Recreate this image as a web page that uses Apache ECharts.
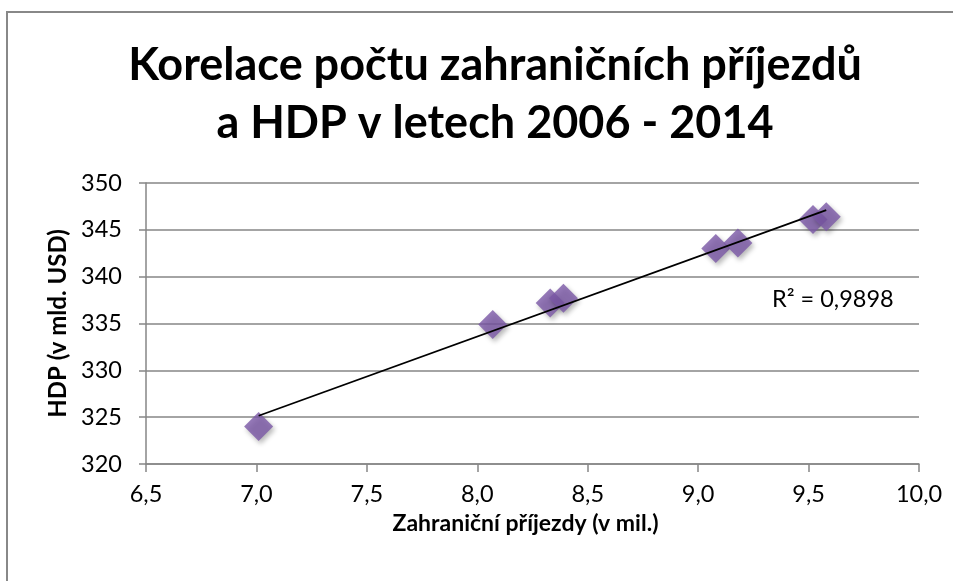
<!DOCTYPE html>
<html>
<head>
<meta charset="utf-8">
<script src="https://cdn.jsdelivr.net/npm/echarts@6/dist/echarts.min.js"></script>
<style>
  html, body { margin: 0; padding: 0; background: #fff; }
  #chart { width: 953px; height: 581px; }
</style>
</head>
<body>
<div id="chart"></div>
<script>
// arrivals (mil.) vs GDP (bn USD)
const arrivals = [7.01, 8.07, 8.33, 8.39, 9.08, 9.18, 9.52, 9.58];
const gdp = [324.0, 334.9, 337.2, 337.7, 343.0, 343.6, 346.1, 346.4];
const xTicks = [6.5, 10.0];
const yTicks = [320, 350];
const rSquaredLabel = "R² = 0,9898";

document.addEventListener("DOMContentLoaded", function () {
  const points = arrivals.map((x, i) => [x, gdp[i]]);

  // linear trend line (least squares)
  const n = points.length;
  const mx = arrivals.reduce((a, b) => a + b, 0) / n;
  const my = gdp.reduce((a, b) => a + b, 0) / n;
  let sxy = 0, sxx = 0;
  points.forEach(([x, y]) => {
    sxy += (x - mx) * (y - my);
    sxx += (x - mx) * (x - mx);
  });
  const slope = sxy / sxx;
  const icpt = my - slope * mx;
  const xMin = Math.min(...arrivals);
  const xMax = Math.max(...arrivals);
  const trend = [
    [xMin, icpt + slope * xMin],
    [xMax, icpt + slope * xMax],
  ];

  const font = "Lato, 'Open Sans', sans-serif";
  let chart = echarts.init(document.getElementById("chart"));
  let option = {
    backgroundColor: "#fff",
    animation: false,
    title: {
      text: "Korelace počtu zahraničních příjezdů\na HDP v letech 2006 - 2014",
      left: 490,
      textAlign: "center",
      top: 31,
      textStyle: {
        fontFamily: font,
        fontWeight: "bold",
        fontSize: 45,
        lineHeight: 58,
        color: "#000",
      },
    },
    grid: {
      left: 146,
      right: 34,
      top: 183,
      bottom: 117,
    },
    xAxis: {
      type: "value",
      min: xTicks[0],
      max: xTicks[1],
      interval: 0.5,
      name: "Zahraniční příjezdy (v mil.)",
      nameLocation: "middle",
      nameGap: 48,
      nameTextStyle: {
        fontFamily: font,
        fontWeight: "bold",
        fontSize: 23,
        color: "#000",
        padding: [0, 14, 0, 0],
      },
      axisLine: { lineStyle: { color: "#868686", width: 1.5 } },
      axisTick: { length: 8, lineStyle: { color: "#868686", width: 1.5 } },
      axisLabel: {
        margin: 18,
        fontFamily: font,
        fontSize: 23.5,
        color: "#000",
        formatter: (v) => v.toFixed(1).replace(".", ","),
      },
      splitLine: { show: false },
    },
    yAxis: {
      type: "value",
      min: yTicks[0],
      max: yTicks[1],
      interval: 5,
      name: "HDP (v mld. USD)",
      nameLocation: "middle",
      nameGap: 36,
      nameTextStyle: {
        fontFamily: font,
        fontWeight: "bold",
        fontSize: 24,
        color: "#000",
      },
      axisLine: { show: true, lineStyle: { color: "#868686", width: 1.5 } },
      axisTick: { show: true, length: 7, lineStyle: { color: "#868686", width: 1.5 } },
      axisLabel: {
        margin: 24,
        fontFamily: font,
        fontSize: 23.5,
        color: "#000",
      },
      splitLine: { lineStyle: { color: "#868686", width: 1.5 } },
    },
    graphic: [
      {
        type: "rect",
        shape: { x: 7, y: 12, width: 1000, height: 1000 },
        style: { fill: "none", stroke: "#888", lineWidth: 2 },
        silent: true,
        z: -1,
      },
      {
        type: "text",
        left: 772,
        top: 287,
        style: {
          text: rSquaredLabel,
          fontFamily: font,
          fontSize: 23.5,
          fill: "#000",
        },
      },
    ],
    series: [
      {
        name: "HDP",
        type: "scatter",
        symbol: "diamond",
        symbolSize: [29, 29],
        itemStyle: {
          color: "#7b58a6",
          shadowColor: "rgba(0,0,0,0.35)",
          shadowBlur: 5,
          shadowOffsetX: 2,
          shadowOffsetY: 3,
        },
        data: points,
        z: 2,
      },
      {
        name: "Trend",
        type: "line",
        data: trend,
        showSymbol: false,
        symbol: "none",
        lineStyle: { color: "#000", width: 1.8 },
        z: 3,
      },
    ],
  };
  option && chart.setOption(option);
});
</script>
</body>
</html>
